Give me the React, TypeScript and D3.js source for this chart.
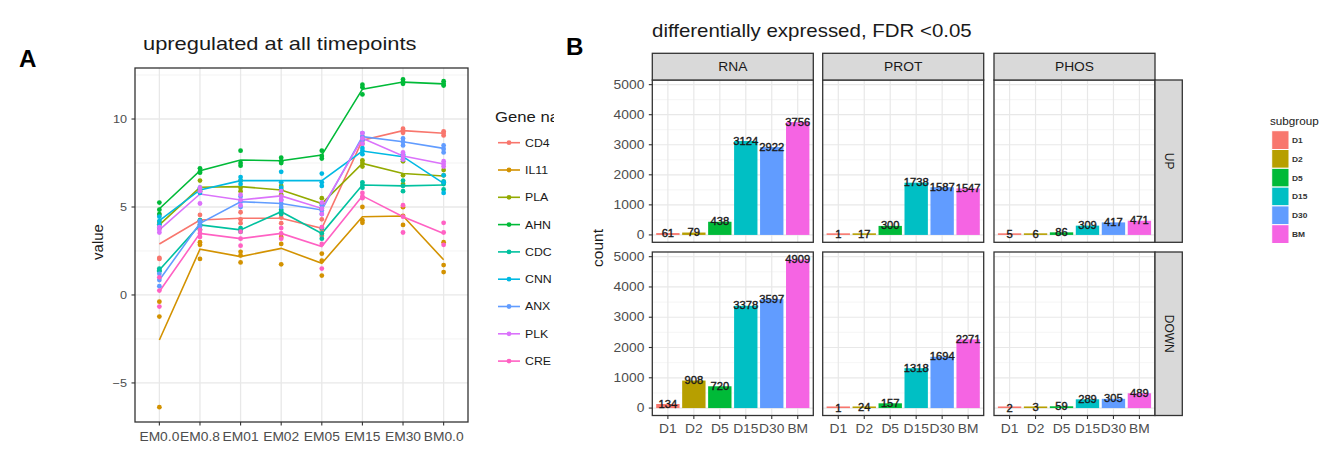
import React from "react";
import * as d3 from "d3";

// ---------- Panel A data ----------
const timepoints = ["EM0.0", "EM0.8", "EM01", "EM02", "EM05", "EM15", "EM30", "BM0.0"];
const genes = ["CD4", "IL11", "PLA", "AHN", "CDC", "CNN", "ANX", "PLK", "CRE"];
const geneColors = ["#F8766D", "#D39200", "#93AA00", "#00BA38", "#00C19F", "#00B9E3", "#619CFF", "#DB72FB", "#FF61C3"];

const meanCD4 = [2.9, 4.26, 4.36, 4.36, 3.79, 8.8, 9.34, 9.19];
const meanIL11 = [-2.56, 2.6, 2.18, 2.65, 1.8, 4.45, 4.49, 2.0];
const meanPLA = [3.98, 6.12, 6.16, 5.97, 5.2, 7.48, 6.9, 6.76];
const meanAHN = [4.9, 7.06, 7.67, 7.63, 7.95, 11.7, 12.1, 12.0];
const meanCDC = [1.42, 3.98, 3.7, 4.73, 3.5, 6.25, 6.2, 6.25];
const meanCNN = [4.22, 5.97, 6.5, 6.5, 6.5, 8.18, 7.86, 6.34];
const meanANX = [0.85, 4.07, 5.3, 5.2, 4.83, 9.0, 8.71, 8.33];
const meanPLK = [3.7, 5.74, 5.4, 5.63, 4.92, 8.9, 7.9, 7.44];
const meanCRE = [0.2, 3.5, 3.2, 3.5, 2.75, 5.63, 4.45, 3.5];

const repCD4 = [[4.55, 2.05, 2.1], [4.55, 4.25, 3.98], [4.7, 4.3, 4.08], [4.6, 4.4, 4.08], [4.3, 3.7, 3.37], [9.0, 8.8, 8.6], [9.45, 9.35, 9.22], [9.3, 9.2, 9.07]];
const repIL11 = [[-6.38, -1.23, -0.38], [2.05, 2.85, 3.0], [1.85, 2.25, 2.45], [1.74, 2.9, 3.3], [1.1, 1.95, 2.35], [4.1, 4.25, 5.0], [3.98, 4.5, 4.99], [1.3, 1.7, 3.0]];
const repPLA = [[3.8, 4.0, 4.15], [5.9, 6.0, 6.5], [5.9, 6.1, 6.5], [5.7, 6.0, 6.2], [4.9, 5.2, 5.5], [7.3, 7.5, 7.65], [6.3, 6.8, 7.6], [6.4, 6.8, 7.1]];
const repAHN = [[5.25, 4.85, 4.6], [7.2, 7.0, 6.95], [8.2, 7.5, 7.35], [7.8, 7.6, 7.5], [8.2, 7.9, 7.75], [11.95, 11.8, 11.4], [12.25, 12.1, 12.0], [12.15, 12.0, 11.9]];
const repCDC = [[1.4, 1.35, 1.5], [3.7, 4.0, 4.25], [3.6, 3.7, 3.8], [4.6, 4.75, 4.85], [3.2, 3.5, 3.8], [6.1, 6.25, 6.4], [5.9, 6.2, 6.5], [6.0, 6.3, 6.45]];
const repCNN = [[4.0, 4.2, 4.45], [5.8, 6.0, 6.1], [6.3, 6.5, 6.7], [6.1, 6.4, 7.0], [6.2, 6.4, 6.9], [8.0, 8.2, 8.35], [7.7, 7.9, 8.0], [5.8, 6.4, 6.8]];
const repANX = [[0.5, 0.85, 1.2], [3.9, 4.1, 4.2], [5.0, 5.3, 5.6], [5.0, 5.2, 5.4], [4.6, 4.8, 5.1], [8.8, 9.0, 9.2], [8.5, 8.7, 8.9], [8.1, 8.3, 8.5]];
const repPLK = [[3.55, 3.7, 3.85], [5.2, 5.9, 6.1], [5.1, 5.4, 5.7], [5.4, 5.6, 5.9], [4.6, 4.9, 5.25], [8.6, 8.9, 9.2], [7.7, 7.9, 8.1], [7.3, 7.45, 7.6]];
const repCRE = [[-0.66, 0.25, 1.0], [3.3, 3.5, 3.7], [2.8, 3.2, 3.6], [3.2, 3.5, 3.8], [1.5, 2.9, 3.85], [5.5, 5.6, 5.8], [3.55, 4.45, 5.1], [2.85, 3.55, 4.1]];

const valueTicks = [-5, 0, 5, 10];
const valueMinor = [-2.5, 2.5, 7.5, 12.5];

// ---------- Panel B data ----------
const subgroups = ["D1", "D2", "D5", "D15", "D30", "BM"];
const subgroupColors = ["#F8766D", "#B79F00", "#00BA38", "#00BFC4", "#619CFF", "#F564E3"];
const omics = ["RNA", "PROT", "PHOS"];
const directions = ["UP", "DOWN"];
const rnaUp = [61, 79, 438, 3124, 2922, 3756];
const protUp = [1, 17, 300, 1738, 1587, 1547];
const phosUp = [5, 6, 86, 309, 417, 471];
const rnaDown = [134, 908, 720, 3378, 3597, 4909];
const protDown = [1, 24, 157, 1318, 1694, 2271];
const phosDown = [2, 3, 59, 289, 305, 489];
const countTicks = [0, 1000, 2000, 3000, 4000, 5000];
const countMinor = [500, 1500, 2500, 3500, 4500];

const FONT = "'Liberation Sans', Arial, Helvetica, sans-serif";

function T(props: any) {
  const { x, y, sx = 1.15, size, anchor = "start", fill = "#4D4D4D", weight = "normal", rotate, stroke, children } = props;
  const tr = rotate != null ? `translate(${x},${y}) rotate(${rotate})` : `translate(${x},${y}) scale(${sx},1)`;
  return (
    <text transform={tr} fontSize={size} textAnchor={anchor} fill={fill} fontWeight={weight} fontFamily={FONT}
      stroke={stroke} strokeWidth={stroke ? 0.35 : undefined}>
      {children}
    </text>
  );
}

export default function App() {
  const geneMeans = [meanCD4, meanIL11, meanPLA, meanAHN, meanCDC, meanCNN, meanANX, meanPLK, meanCRE];
  const geneReps = [repCD4, repIL11, repPLA, repAHN, repCDC, repCNN, repANX, repPLK, repCRE];

  // Panel A scales
  const aL = 135, aR = 468, aT = 68, aB = 422;
  const ax = d3.scalePoint<string>().domain(timepoints).range([aL, aR]).padding(0.6);
  const ay = d3.scaleLinear().domain([-7.22, 12.9]).range([aB, aT]);
  const line = d3.line<number>().x((_, i) => ax(timepoints[i]) as number).y((v) => ay(v));

  // Panel B layout
  const colX = [652.3, 822.7, 994];
  const panelW = 161;
  const rowY: [number, number][] = [[80, 242.3], [252, 415.5]];
  const table: Record<string, Record<string, number[]>> = {
    UP: { RNA: rnaUp, PROT: protUp, PHOS: phosUp },
    DOWN: { RNA: rnaDown, PROT: protDown, PHOS: phosDown },
  };
  const countExtent = [0, d3.max([...rnaUp, ...rnaDown]) as number];
  const pad = (countExtent[1] - countExtent[0]) * 0.05;

  const legendAY = 142.7;
  const legendAStep = 27.3;

  return (
    <svg width={1336} height={469} style={{ position: "absolute", left: 0, top: 0, background: "#fff" }}>
      <rect x={0} y={0} width={1336} height={469} fill="#fff" />
      {/* Panel labels */}
      <T x={19} y={67} size={23} weight="bold" fill="#000" sx={1.05}>A</T>
      <T x={566} y={55} size={23} weight="bold" fill="#000" sx={1.05}>B</T>

      {/* ---------- Panel A ---------- */}
      <T x={143} y={49.5} size={17.5} sx={1.25} fill="#1A1A1A">upregulated at all timepoints</T>
      <g>
        {valueMinor.filter((v) => ay(v) > aT && ay(v) < aB).map((v) => (
          <line key={"mn" + v} x1={aL} x2={aR} y1={ay(v)} y2={ay(v)} stroke="#F0F0F0" strokeWidth={0.8} />
        ))}
        {valueTicks.map((v) => (
          <line key={"mj" + v} x1={aL} x2={aR} y1={ay(v)} y2={ay(v)} stroke="#E8E8E8" strokeWidth={1.3} />
        ))}
        {timepoints.map((t) => (
          <line key={"vx" + t} x1={ax(t)} x2={ax(t)} y1={aT} y2={aB} stroke="#E8E8E8" strokeWidth={1.3} />
        ))}
        {genes.map((g, gi) => (
          <path key={"ln" + g} d={line(geneMeans[gi]) as string} fill="none" stroke={geneColors[gi]} strokeWidth={1.6} />
        ))}
        {genes.map((g, gi) =>
          geneReps[gi].map((reps, ti) =>
            reps.map((v, ri) => (
              <circle key={g + ti + "_" + ri} cx={ax(timepoints[ti])} cy={ay(v)} r={2.4} fill={geneColors[gi]} />
            ))
          )
        )}
        <rect x={aL} y={aT} width={aR - aL} height={aB - aT} fill="none" stroke="#333" strokeWidth={1.3} />
        {valueTicks.map((v) => (
          <g key={"yt" + v}>
            <line x1={aL - 3.5} x2={aL} y1={ay(v)} y2={ay(v)} stroke="#333" strokeWidth={1.1} />
            <T x={aL - 8} y={ay(v) + 4.2} size={11.5} sx={1.1} anchor="end">{v === -5 ? "\u22125" : String(v)}</T>
          </g>
        ))}
        {timepoints.map((t) => (
          <g key={"xt" + t}>
            <line x1={ax(t)} x2={ax(t)} y1={aB} y2={aB + 3.5} stroke="#333" strokeWidth={1.1} />
            <T x={ax(t)} y={440.5} size={12} sx={1.15} anchor="middle">{t}</T>
          </g>
        ))}
        <T x={103} y={242} size={15} rotate={-90} anchor="middle" fill="#1A1A1A">value</T>
      </g>

      {/* Legend A (clipped like the reference) */}
      <defs>
        <clipPath id="legAclip">
          <rect x={480} y={90} width={74} height={300} />
        </clipPath>
      </defs>
      <g clipPath="url(#legAclip)">
        <T x={495} y={121.5} size={14.5} sx={1.15} fill="#1A1A1A">Gene name</T>
        {genes.map((g, gi) => {
          const y = legendAY + gi * legendAStep;
          return (
            <g key={"la" + g}>
              <line x1={498} x2={520} y1={y} y2={y} stroke={geneColors[gi]} strokeWidth={1.6} />
              <circle cx={509} cy={y} r={2.4} fill={geneColors[gi]} />
              <T x={525} y={y + 3.9} size={11} sx={1.12} fill="#1A1A1A">{g}</T>
            </g>
          );
        })}
      </g>

      {/* ---------- Panel B ---------- */}
      <T x={652} y={37} size={17.5} sx={1.17} fill="#1A1A1A">differentially expressed, FDR &lt;0.05</T>

      {directions.map((dir, ri) => {
        const [yTop, yBot] = rowY[ri];
        const by = d3.scaleLinear().domain([countExtent[0] - pad, countExtent[1] + pad]).range([yBot, yTop]);
        return (
          <g key={"row" + dir}>
            {omics.map((om, ci) => {
              const x0 = colX[ci];
              const bx = d3.scaleBand<string>().domain(subgroups).range([x0, x0 + panelW]).paddingInner(0.1).paddingOuter(0.15);
              const vals = table[dir][om];
              return (
                <g key={"p" + dir + om}>
                  {countMinor.map((v) => (
                    <line key={"bm" + v} x1={x0} x2={x0 + panelW} y1={by(v)} y2={by(v)} stroke="#F0F0F0" strokeWidth={0.7} />
                  ))}
                  {countTicks.map((v) => (
                    <line key={"bM" + v} x1={x0} x2={x0 + panelW} y1={by(v)} y2={by(v)} stroke="#E8E8E8" strokeWidth={1.2} />
                  ))}
                  {subgroups.map((s) => (
                    <line key={"bv" + s} x1={(bx(s) as number) + bx.bandwidth() / 2} x2={(bx(s) as number) + bx.bandwidth() / 2} y1={yTop} y2={yBot} stroke="#E8E8E8" strokeWidth={1.2} />
                  ))}
                  {vals.map((v, i) => {
                    const h = Math.max(by(0) - by(v), 1.6);
                    return (
                      <rect key={"bar" + i} x={bx(subgroups[i])} y={by(0) - h} width={bx.bandwidth()} height={h} fill={subgroupColors[i]} />
                    );
                  })}
                  {vals.map((v, i) => (
                    <T key={"lbl" + i} x={(bx(subgroups[i]) as number) + bx.bandwidth() / 2} y={by(v) + 3.5} size={10} sx={1.12} anchor="middle" fill="#1A1A1A" stroke="#1A1A1A">{v}</T>
                  ))}
                  <rect x={x0} y={yTop} width={panelW} height={yBot - yTop} fill="none" stroke="#333" strokeWidth={1.3} />
                  {ri === 0 && (
                    <g>
                      <rect x={x0} y={53.3} width={panelW} height={yTop - 53.3} fill="#D9D9D9" stroke="#333" strokeWidth={1.3} />
                      <T x={x0 + panelW / 2} y={71} size={12} sx={1.15} anchor="middle" fill="#1A1A1A">{om}</T>
                    </g>
                  )}
                  {ri === 1 &&
                    subgroups.map((s) => {
                      const cx = (bx(s) as number) + bx.bandwidth() / 2;
                      return (
                        <g key={"xt" + s}>
                          <line x1={cx} x2={cx} y1={yBot} y2={yBot + 3.5} stroke="#333" strokeWidth={1.1} />
                          <T x={cx} y={432.5} size={12} sx={1.15} anchor="middle">{s}</T>
                        </g>
                      );
                    })}
                  {ci === 0 &&
                    countTicks.map((v) => (
                      <g key={"yt" + v}>
                        <line x1={x0 - 3.5} x2={x0} y1={by(v)} y2={by(v)} stroke="#333" strokeWidth={1.1} />
                        <T x={x0 - 8} y={by(v) + 4.2} size={12} sx={1.15} anchor="end">{v}</T>
                      </g>
                    ))}
                </g>
              );
            })}
            <rect x={1155} y={yTop} width={27.3} height={yBot - yTop} fill="#D9D9D9" stroke="#333" strokeWidth={1.3} />
            <T x={1164.5} y={(yTop + yBot) / 2} size={12} rotate={90} anchor="middle" fill="#1A1A1A">{dir}</T>
          </g>
        );
      })}
      <T x={603} y={248} size={15.5} rotate={-90} anchor="middle" fill="#1A1A1A">count</T>

      {/* Legend B */}
      <T x={1270} y={125} size={10} sx={1.17} fill="#1A1A1A">subgroup</T>
      {subgroups.map((s, i) => {
        const y = 130.7 + i * 18.8;
        return (
          <g key={"lb" + s}>
            <rect x={1271.7} y={y} width={17.3} height={18.8} fill={subgroupColors[i]} stroke="#fff" strokeWidth={1} />
            <T x={1292} y={y + 12.3} size={8} sx={1.05} weight="bold" fill="#333">{s}</T>
          </g>
        );
      })}
    </svg>
  );
}
